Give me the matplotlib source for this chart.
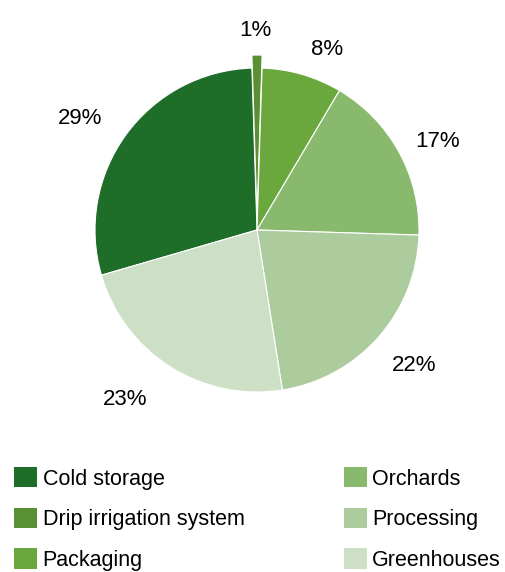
import numpy as np
import matplotlib
matplotlib.use("Agg")
import matplotlib.pyplot as plt
from matplotlib.patches import Patch

plt.rcParams['font.family'] = ['Liberation Sans', 'DejaVu Sans']

categories = ["Cold storage", "Drip irrigation system", "Packaging",
              "Orchards", "Processing", "Greenhouses"]
shares = [29, 1, 8, 17, 22, 23]
colors = ["#1e6e2a", "#5a9034", "#6aa83e", "#88b96d", "#adcc9e", "#cddfc5"]
explode = [0, 0.08, 0, 0, 0, 0]

# label placement: radial distance (in radii) and angular nudge (degrees)
label_dist = [1.30, 1.25, 1.21, 1.25, 1.27, 1.31]
label_nudge = [3.2, 0.6, -4.8, -2.1, 1.3, -5.9]

W, H = 505, 572
fig = plt.figure(figsize=(W / 100, H / 100), dpi=100)

cx, cy, r = 257, 230, 162
ax = fig.add_axes([(cx - r) / W, (H - cy - r) / H, 2 * r / W, 2 * r / H])

# centre the small drip-irrigation slice on the vertical
total = sum(shares)
start = 90 + (shares[0] + shares[1] / 2) / total * 360
wedges, texts, autotexts = ax.pie(
    shares, colors=colors, explode=explode, startangle=start,
    counterclock=False, autopct=lambda p: f"{p:.0f}%", pctdistance=1.26,
    wedgeprops=dict(edgecolor="white", linewidth=0.8),
    textprops=dict(fontsize=16, color="black"))

for w, t, d, n in zip(wedges, autotexts, label_dist, label_nudge):
    ang = np.deg2rad((w.theta1 + w.theta2) / 2 + n)
    t.set_position((d * np.cos(ang), d * np.sin(ang)))
    t.set_verticalalignment("center_baseline")

ax.set_xlim(-1, 1)
ax.set_ylim(-1, 1)
ax.set_aspect("equal")
ax.axis("off")

handles = [Patch(facecolor=c, edgecolor="none") for c in colors]
fig.legend(handles, categories, loc="upper left",
           bbox_to_anchor=(14 / W, 1 - 467 / H), ncol=2, frameon=False,
           fontsize=15.5, handlelength=1.08, handleheight=1.08,
           handletextpad=0.25, columnspacing=4.6, labelspacing=0.84,
           borderpad=0, borderaxespad=0)

fig.savefig("out.png", dpi=100)
